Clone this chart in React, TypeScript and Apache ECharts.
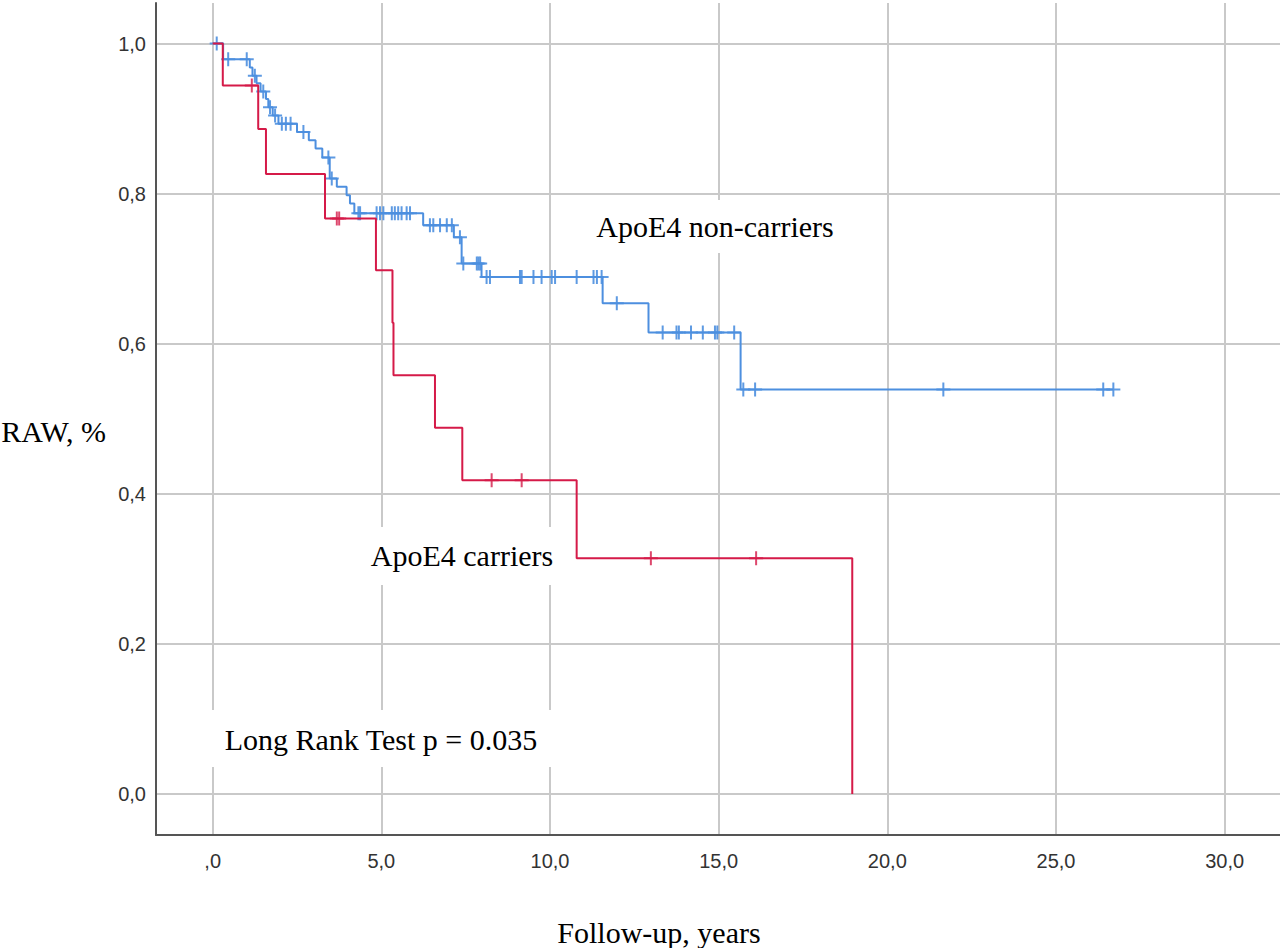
import { useEffect, useRef } from "react";
import * as echarts from "echarts";

// ApoE4 non-carriers: event times (years) and survival after each event
const NONCARRIER_TIMES = [0, 0.31, 1.10, 1.18, 1.30, 1.42, 1.58, 1.65, 1.78, 1.95, 2.50, 2.85, 3.05, 3.25, 3.47, 3.68, 3.97, 4.07, 4.20, 6.24, 7.15, 7.38, 7.97, 11.56, 12.92, 15.65, 26.70];
const NONCARRIER_SURVIVAL = [1.0, 0.979, 0.968, 0.957, 0.947, 0.936, 0.926, 0.915, 0.904, 0.893, 0.882, 0.871, 0.860, 0.848, 0.820, 0.809, 0.798, 0.787, 0.774, 0.758, 0.742, 0.707, 0.689, 0.654, 0.615, 0.539, 0.539];
const NONCARRIER_CENSORED = [0.12, 0.46, 1.01, 1.25, 1.50, 1.70, 1.85, 2.05, 2.17, 2.31, 2.69, 3.43, 3.53, 4.32, 4.37, 4.86, 4.96, 5.06, 5.31, 5.40, 5.50, 5.60, 5.75, 5.85, 6.44, 6.54, 6.74, 6.94, 7.09, 7.33, 7.43, 7.83, 7.88, 7.93, 8.12, 8.22, 9.11, 9.16, 9.51, 9.75, 10.05, 10.15, 10.79, 11.29, 11.39, 11.53, 11.98, 13.34, 13.75, 13.82, 14.18, 14.53, 14.89, 14.96, 15.46, 15.73, 16.08, 21.66, 26.40, 26.70];

// ApoE4 carriers
const CARRIER_TIMES = [0, 0.30, 1.35, 1.58, 3.33, 4.84, 5.33, 5.36, 6.59, 7.40, 10.79, 18.96];
const CARRIER_SURVIVAL = [1.0, 0.944, 0.886, 0.826, 0.767, 0.698, 0.628, 0.558, 0.488, 0.418, 0.314, 0.0];
const CARRIER_CENSORED = [1.16, 3.68, 3.75, 8.27, 9.16, 12.99, 16.11];

const LABEL_NONCARRIERS = "ApoE4 non-carriers";
const LABEL_CARRIERS = "ApoE4 carriers";
const LABEL_TEST = "Long Rank Test p = 0.035";
const X_NAME = "Follow-up, years";
const Y_NAME = "RAW, %";

const BLUE = "#4d8fdf";
const RED = "#d51a48";
const PLUS = "path://M6,0h2v6h6v2h-6v6h-2v-6h-6v-2h6z";

function survivalAt(times: number[], surv: number[], t: number) {
  let s = surv[0];
  for (let i = 0; i < times.length; i++) {
    if (times[i] <= t) s = surv[i];
  }
  return s;
}

function pairs(times: number[], surv: number[]) {
  return times.map((t, i) => [t, surv[i]]);
}

function censorPoints(times: number[], surv: number[], cens: number[]) {
  return cens.map((t) => [t, survivalAt(times, surv, t)]);
}

function fmt(v: number, zeroLabel: string) {
  if (Math.abs(v) < 1e-9) return zeroLabel;
  return v.toFixed(1).replace(".", ",");
}

const SERIF = "'Liberation Serif', 'Times New Roman', serif";
const SANS = "'Liberation Sans', Arial, sans-serif";

function boxText(text: string, cx: number, cy: number, x0: number, y0: number, x1: number, y1: number) {
  return [
    {
      type: "rect",
      z: 1,
      shape: { x: x0, y: y0, width: x1 - x0, height: y1 - y0 },
      style: { fill: "#ffffff" },
      silent: true,
    },
    {
      type: "text",
      z: 1,
      x: cx,
      y: cy,
      style: {
        text,
        fill: "#000000",
        font: `30px ${SERIF}`,
        textAlign: "center",
        textVerticalAlign: "middle",
      },
      silent: true,
    },
  ];
}

export default function App() {
  const ref = useRef<HTMLDivElement>(null);

  useEffect(() => {
    if (!ref.current) return;
    const chart = echarts.init(ref.current, undefined, { renderer: "svg" });
    const gridLine = { color: "#c9c9c9", width: 2 };
    const axisLine = { color: "#555555", width: 2 };

    chart.setOption({
      animation: false,
      backgroundColor: "#ffffff",
      grid: { left: 156, right: 0, top: 3, bottom: 113, containLabel: false },
      xAxis: {
        type: "value",
        min: -1.68,
        max: 31.64,
        splitNumber: 5,
        axisLine: { show: true, onZero: false, lineStyle: axisLine },
        axisTick: { show: false },
        axisLabel: {
          margin: 16,
          fontSize: 20,
          fontFamily: SANS,
          color: "#333333",
          showMinLabel: false,
          showMaxLabel: false,
          formatter: (v: number) => fmt(v, ",0"),
        },
        splitLine: { show: true, showMinLine: false, showMaxLine: false, lineStyle: gridLine },
      },
      yAxis: {
        type: "value",
        min: -0.0546,
        max: 1.054,
        splitNumber: 5,
        axisLine: { show: true, onZero: false, lineStyle: axisLine },
        axisTick: { show: false },
        axisLabel: {
          margin: 10,
          fontSize: 20,
          fontFamily: SANS,
          color: "#333333",
          showMinLabel: false,
          showMaxLabel: false,
          padding: [6, 0, 0, 0],
          formatter: (v: number) => fmt(v, "0,0"),
        },
        splitLine: { show: true, showMinLine: false, showMaxLine: false, lineStyle: gridLine },
      },
      graphic: [
        ...boxText(LABEL_NONCARRIERS, 715, 226, 583, 200, 847, 253),
        ...boxText(LABEL_CARRIERS, 462, 555, 360, 527, 565, 585),
        ...boxText(LABEL_TEST, 381, 739, 205, 710, 555, 767),
        {
          type: "text",
          x: 659,
          y: 932,
          style: { text: X_NAME, fill: "#000", font: `30px ${SERIF}`, textAlign: "center", textVerticalAlign: "middle" },
        },
        {
          type: "text",
          x: 106,
          y: 431,
          style: { text: Y_NAME, fill: "#000", font: `30px ${SERIF}`, textAlign: "right", textVerticalAlign: "middle" },
        },
      ],
      series: [
        {
          type: "line",
          name: LABEL_NONCARRIERS,
          step: "end",
          showSymbol: false,
          symbol: "none",
          z: 3,
          lineStyle: { color: BLUE, width: 2 },
          data: pairs(NONCARRIER_TIMES, NONCARRIER_SURVIVAL),
        },
        {
          type: "scatter",
          name: LABEL_NONCARRIERS + " censored",
          symbol: PLUS,
          symbolSize: 14,
          z: 3,
          itemStyle: { color: BLUE, opacity: 0.9 },
          data: censorPoints(NONCARRIER_TIMES, NONCARRIER_SURVIVAL, NONCARRIER_CENSORED),
        },
        {
          type: "line",
          name: LABEL_CARRIERS,
          step: "end",
          showSymbol: false,
          symbol: "none",
          z: 4,
          lineStyle: { color: RED, width: 2 },
          data: pairs(CARRIER_TIMES, CARRIER_SURVIVAL),
        },
        {
          type: "scatter",
          name: LABEL_CARRIERS + " censored",
          symbol: PLUS,
          symbolSize: 14,
          z: 4,
          itemStyle: { color: RED },
          data: censorPoints(CARRIER_TIMES, CARRIER_SURVIVAL, CARRIER_CENSORED),
        },
      ],
    });
    return () => chart.dispose();
  }, []);

  return (
    <div
      ref={ref}
      style={{ position: "absolute", left: 0, top: 0, width: 1280, height: 948, background: "#fff" }}
    />
  );
}
